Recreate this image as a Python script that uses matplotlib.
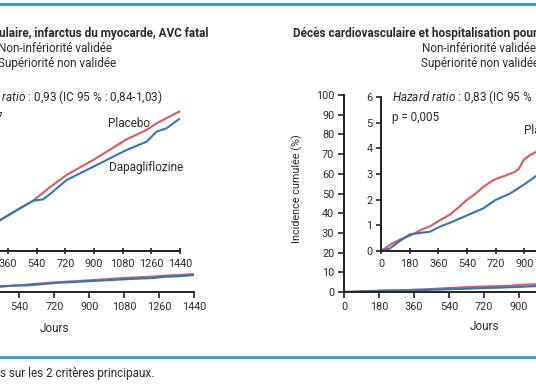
import numpy as np
import matplotlib
matplotlib.use("Agg")
import matplotlib.pyplot as plt
from matplotlib.lines import Line2D

plt.rcParams['font.family'] = ['Roboto', 'DejaVu Sans']
plt.rcParams['mathtext.fontset'] = 'custom'
plt.rcParams['mathtext.rm'] = 'Roboto'
plt.rcParams['mathtext.it'] = 'Roboto:italic'

W, H = 536, 386

# --- data ---
ticks_days = [0, 180, 360, 540, 720, 900, 1080, 1260, 1440]

# left panel: MACE (inset scale 0-10 %)
mace_pla_days = [0, 180, 310, 435, 519, 623, 728, 895, 1104, 1230, 1292, 1434]
mace_pla = [0, 1.2, 2.0, 2.77, 3.27, 4.14, 4.94, 5.91, 7.25, 7.86, 8.29, 9.05]
mace_dapa_days = [0, 180, 310, 435, 519, 580, 630, 728, 895, 1104, 1230, 1292, 1355, 1434]
mace_dapa = [0, 1.2, 2.0, 2.77, 3.27, 3.35, 3.75, 4.61, 5.47, 6.56, 7.1, 7.75, 7.97, 8.57]

# right panel: CV death / hospitalisation (inset scale 0-6 %)
hf_pla_days = [0, 60, 120, 190, 250, 310, 370, 433, 490, 537, 590, 642, 705, 789, 841,
               865, 895, 935, 973, 1080, 1260, 1440]
hf_pla = [0, 0.25, 0.45, 0.62, 0.82, 0.97, 1.2, 1.42, 1.72, 1.98, 2.22, 2.5, 2.76, 2.96, 3.09,
          3.2, 3.55, 3.74, 3.86, 4.3, 5.0, 5.8]
hf_dapa_days = [0, 56, 120, 182, 240, 307, 370, 433, 537, 642, 716, 810, 893, 973, 1080, 1260, 1440]
hf_dapa = [0, 0.1, 0.4, 0.65, 0.7, 0.75, 0.95, 1.1, 1.38, 1.66, 1.98, 2.24, 2.57, 2.92, 3.4, 4.1, 4.9]

RED = '#e0585a'
BLUE = '#2f78b4'
RULE = '#3d9bd1'
INK = '#2a2a2a'
FS = 7.8     # tick labels
FT = 8.5     # other texts


def rect(x0, ybot, w, h):
    return [x0 / W, (H - ybot) / H, w / W, h / H]


def fx(px):
    return px / W


def fy(py):
    return 1 - py / H


fig = plt.figure(figsize=(W / 100, H / 100), dpi=100)
fig.patch.set_facecolor('white')


def style(ax, ticklen=4):
    for s in ['top', 'right']:
        ax.spines[s].set_visible(False)
    for s in ['left', 'bottom']:
        ax.spines[s].set_linewidth(1.4)
        ax.spines[s].set_color('#222222')
    ax.tick_params(labelsize=FS, colors='#222222', labelcolor=INK, width=1.2, length=ticklen, pad=2.5)


def panel(x_outer, x_inset, pla_d, pla, dapa_d, dapa, ymax_in, yticks_in, show_y):
    outer = fig.add_axes(rect(x_outer, 292, 279.4, 197))
    outer.plot(pla_d, pla, color=RED, lw=1.5)
    outer.plot(dapa_d, dapa, color=BLUE, lw=1.5)
    outer.set_xlim(0, 1440)
    outer.set_ylim(0, 100)
    outer.set_xticks(ticks_days)
    outer.set_yticks(range(0, 101, 10))
    style(outer, 4.5)
    outer.tick_params(axis='x', pad=3)
    outer.tick_params(axis='y', labelleft=show_y)

    inset = fig.add_axes(rect(x_inset, 251, 229.5, 154))
    inset.set_facecolor('white')
    inset.plot(pla_d, pla, color=RED, lw=1.5)
    inset.plot(dapa_d, dapa, color=BLUE, lw=1.5)
    inset.set_xlim(0, 1440)
    inset.set_ylim(0, ymax_in)
    inset.set_xticks(ticks_days)
    inset.set_yticks(yticks_in)
    style(inset, 3.5)
    inset.tick_params(axis='x', direction='inout', length=5, pad=3)
    inset.tick_params(axis='y', labelleft=show_y)
    return outer, inset


# the left panel's y axes lie outside the cropped picture
outL, inL = panel(-85.4, -49.4, mace_pla_days, mace_pla, mace_dapa_days, mace_dapa, 10, range(0, 11, 2), False)
outR, inR = panel(344, 381, hf_pla_days, hf_pla, hf_dapa_days, hf_dapa, 6, range(0, 7), True)

# inset annotations
inL.text(0.048, 1.0, r'$\mathit{Hazard\ ratio}$ : 0,93 (IC 95 % : 0,84-1,03)', transform=inL.transAxes,
         fontsize=FT, color=INK, va='center', ha='left')
inL.text(0.048, 0.87, 'p = 0,17', transform=inL.transAxes, fontsize=FT, color=INK, va='center', ha='left')
inR.text(0.048, 1.0, r'$\mathit{Hazard\ ratio}$ : 0,83 (IC 95 % : 0,73-0,95)', transform=inR.transAxes,
         fontsize=FT, color=INK, va='center', ha='left')
inR.text(0.048, 0.87, 'p = 0,005', transform=inR.transAxes, fontsize=FT, color=INK, va='center', ha='left')

inL.text(987, 8.25, 'Placebo', fontsize=FT, color=INK, va='center', ha='left')
inL.text(994, 5.39, 'Dapagliflozine', fontsize=FT, color=INK, va='center', ha='left')
inR.text(897, 4.71, 'Placebo', fontsize=FT, color=INK, va='center', ha='left')
inR.text(1000, 2.5, 'Dapagliflozine', fontsize=FT, color=INK, va='center', ha='left')

# titles
fig.text(fx(208), fy(33), 'Décès cardiovasculaire, infarctus du myocarde, AVC fatal',
         fontsize=FT, fontweight='bold', color=INK, ha='right', va='center')
fig.text(fx(112), fy(49), 'Non-infériorité validée', fontsize=FT, color=INK, ha='right', va='center')
fig.text(fx(116), fy(63), 'Supériorité non validée', fontsize=FT, color=INK, ha='right', va='center')

fig.text(fx(293), fy(34), 'Décès cardiovasculaire et hospitalisation pour insuffisance cardiaque',
         fontsize=FT, fontweight='bold', color=INK, ha='left', va='center')
fig.text(fx(422), fy(49), 'Non-infériorité validée', fontsize=FT, color=INK, ha='left', va='center')
fig.text(fx(421), fy(63), 'Supériorité non validée', fontsize=FT, color=INK, ha='left', va='center')

# axis labels
fig.text(fx(297), fy(189), 'Incidence cumulée (%)', fontsize=FS, color=INK, rotation=90,
         ha='center', va='center')
fig.text(fx(54), fy(328), 'Jours', fontsize=FT, color=INK, ha='center', va='center')
fig.text(fx(484), fy(327), 'Jours', fontsize=FT, color=INK, ha='center', va='center')

# horizontal rules and caption
fig.add_artist(Line2D([0, 1], [fy(3.5), fy(3.5)], transform=fig.transFigure, color=RULE, lw=2.2))
fig.add_artist(Line2D([0, 1], [fy(357), fy(357)], transform=fig.transFigure, color=RULE, lw=2.2))
fig.text(fx(0.5), fy(374), 's sur les 2 critères principaux.', fontsize=FT, color=INK, ha='left', va='center')

fig.savefig('out.png', dpi=100)
